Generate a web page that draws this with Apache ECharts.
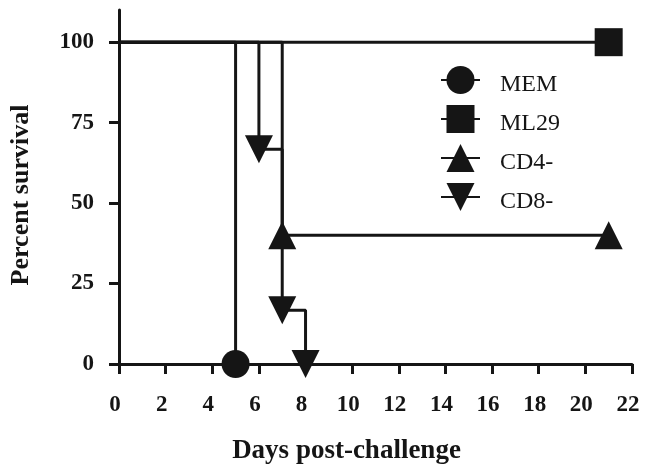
<!DOCTYPE html>
<html>
<head>
<meta charset="utf-8">
<script src="https://cdn.jsdelivr.net/npm/echarts@6/dist/echarts.min.js"></script>
<style>
html,body{margin:0;padding:0;background:#fff;}
#chart{width:645px;height:473px;}
</style>
</head>
<body>
<div id="chart"></div>
<script>
// ---- data (days, percent survival); first point is the start of each curve ----
const seriesNames = ['MEM', 'ML29', 'CD4-', 'CD8-'];
const memPts  = [[0, 100], [5, 0]];
const ml29Pts = [[0, 100], [21, 100]];
const cd4Pts  = [[0, 100], [7, 40], [21, 40]];
const cd8Pts  = [[0, 100], [6, 66.7], [7, 16.7], [8, 0]];
const percentTicks = [0, 25, 50, 75, 100];
const dayMin = 0, dayMax = 22, dayStep = 2;

const INK = '#151515';
const symbols = ['circle', 'rect', 'triangle', 'path://M0,0 L10,0 L5,10 Z'];
const allPts = [memPts, ml29Pts, cd4Pts, cd8Pts];

function mkSeries(name, pts, sym) {
  return {
    name: name,
    type: 'line',
    step: 'end',
    symbol: sym,
    symbolSize: 28,
    showAllSymbol: true,
    animation: false,
    lineStyle: { color: INK, width: 3 },
    itemStyle: { color: INK },
    data: pts.map((p, i) => i === 0 ? { value: p, symbol: 'none' } : { value: p })
  };
}

const chart = echarts.init(document.getElementById('chart'), null, { renderer: 'canvas' });
chart.setOption({
  backgroundColor: '#fff',
  animation: false,
  grid: { left: 113, right: 13, top: 10, bottom: 109, containLabel: false },
  legend: {
    orient: 'vertical',
    left: 440,
    top: 66,
    padding: 0,
    itemWidth: 39,
    itemHeight: 35,
    itemGap: 8,
    selectedMode: false,
    data: seriesNames,
    formatter: '{t|{name}}',
    textStyle: {
      fontFamily: 'Liberation Serif', fontSize: 24, color: INK,
      rich: { t: { fontFamily: 'Liberation Serif', fontSize: 24, color: INK, padding: [10, 0, 0, 15] } }
    }
  },
  xAxis: {
    type: 'value',
    min: dayMin, max: dayMax, interval: dayStep,
    name: 'Days post-challenge',
    nameLocation: 'middle',
    nameGap: 74,
    nameTextStyle: { fontFamily: 'Liberation Serif', fontWeight: 'bold', fontSize: 27, color: INK, padding: [0, 58, 0, 0] },
    axisLine: { onZero: false, lineStyle: { color: INK, width: 3 } },
    axisTick: { show: true, length: 10, inside: false, lineStyle: { color: INK, width: 3 } },
    axisLabel: { margin: 30, padding: [0, 8, 0, 0], fontFamily: 'Liberation Serif', fontWeight: 'bold', fontSize: 23, color: INK },
    splitLine: { show: false }
  },
  yAxis: {
    type: 'value',
    min: 0, max: 110,
    name: 'Percent survival',
    nameLocation: 'middle',
    nameGap: 85,
    nameRotate: 90,
    nameTextStyle: { fontFamily: 'Liberation Serif', fontWeight: 'bold', fontSize: 26, color: INK, padding: [0, 16, 0, 0] },
    axisLine: { onZero: false, lineStyle: { color: INK, width: 3 } },
    axisTick: { show: true, length: 10, customValues: percentTicks, lineStyle: { color: INK, width: 3 } },
    axisLabel: { margin: 25, customValues: percentTicks, fontFamily: 'Liberation Serif', fontWeight: 'bold', fontSize: 23, color: INK },
    splitLine: { show: false }
  },
  series: seriesNames.map((n, i) => mkSeries(n, allPts[i], symbols[i]))
});
</script>
</body>
</html>
